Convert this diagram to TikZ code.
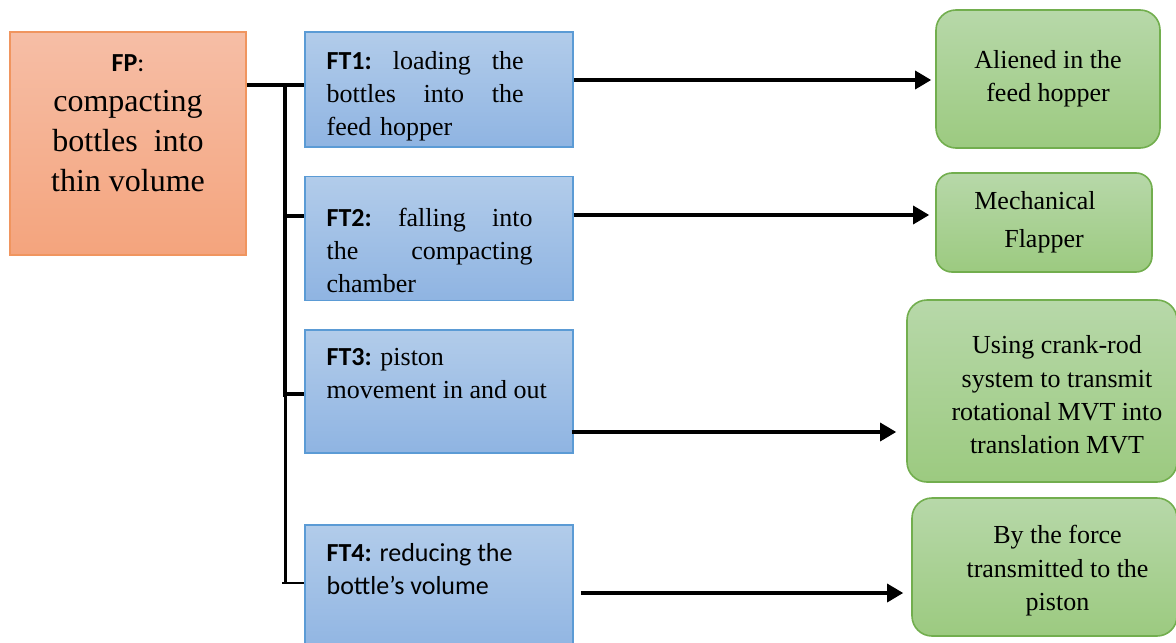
\documentclass[tikz,border=0pt]{standalone}
\usepackage{fontspec}
\setmainfont{Liberation Serif}
\newfontfamily\calibri{Carlito}

\begin{document}
\begin{tikzpicture}[x=0.5pt,y=-0.5pt]
  \usetikzlibrary{positioning,calc,arrows.meta}
    \definecolor{fptop}{HTML}{F6BEA6}
    \definecolor{fpbot}{HTML}{F4A47D}
    \definecolor{fpline}{HTML}{F0955F}
    \definecolor{fttop}{HTML}{B2CCEA}
    \definecolor{ftbot}{HTML}{8FB4E2}
    \definecolor{ftline}{HTML}{5B9BD5}
    \definecolor{rstop}{HTML}{B7D8A9}
    \definecolor{rsbot}{HTML}{9CCA80}
    \definecolor{rsline}{HTML}{72AE4E}
    \tikzstyle{arrow} = [line width=1.6pt,-{Triangle[length=8pt,width=9pt]}]
    \tikzstyle{link} = [line width=1.7pt]
       \tikzset{fpbox/.style = {rectangle, draw=fpline, line width=0.8pt, top color=fptop, bottom color=fpbot, minimum width=118pt, minimum height=111.5pt}, }
       \tikzset{ftbox/.style = {rectangle, draw=ftline, line width=0.8pt, top color=fttop, bottom color=ftbot, minimum width=134pt}, }
       \tikzset{fttext/.style = {anchor=north west, inner sep=0pt, align=left, font=\fontsize{13}{16.5}\selectfont}, }
       \tikzset{rsbox/.style = {rectangle, rounded corners=10pt, draw=rsline, line width=0.8pt, top color=rstop, bottom color=rsbot, align=center, font=\fontsize{13}{16.5}\selectfont}, }
       \tikzset{rstext/.style = {inner sep=0pt, align=center, font=\fontsize{13}{16.7}\selectfont}, }

       \useasboundingbox (0,0) rectangle (1176,642);

       \node[fpbox] (fp) at (128,143.5) {};
       \node[anchor=north, inner sep=0pt, align=center, font=\fontsize{16}{20}\selectfont] (fptext) at (128,54)
         {{\calibri\fontsize{13}{20}\selectfont\textbf{FP}:}\\ compacting\\ bottles\ \ into\\ thin volume};

       \node[ftbox, minimum height=57.5pt] (ft1) at (439,89.5) {};
       \node[ftbox, minimum height=62pt, below=14pt of ft1] (ft2) {};
       \node[ftbox, minimum height=61.5pt, below=14pt of ft2] (ft3) {};
       \node[ftbox, minimum height=65pt, below=35pt of ft3] (ft4) {};

       \node[fttext, text width=98.5pt] (ft1text) at ($(ft1.north west)+(22,20)$)
         {{\calibri\textbf{FT1:}}\hfill loading\hfill the\\ bottles\hfill into\hfill the\\ feed hopper};
       \node[fttext, text width=103pt] (ft2text) at ($(ft2.north west)+(22,32)$)
         {{\calibri\textbf{FT2:}}\hfill falling\hfill into\\ the\hfill compacting\\ chamber};
       \node[fttext] (ft3text) at ($(ft3.north west)+(22,18)$)
         {{\calibri\textbf{FT3:}} piston\\ movement in and out};
       \node[fttext, font=\calibri\fontsize{13}{16.5}\selectfont] (ft4text) at ($(ft4.north west)+(22,19)$)
         {\textbf{FT4:} reducing the\\ bottle’s volume};

       \node[rsbox, minimum width=112pt, minimum height=69pt] (rs1) at (1048,79) {Aliened in the\\ feed hopper};
       \node[rsbox, minimum width=108pt, minimum height=49.5pt, rounded corners=8pt, font=\fontsize{13}{19}\selectfont] (rs2) at (1044,222.5) {Mechanical\hspace*{9pt}\\ Flapper};
       \node[rsbox, minimum width=135pt, minimum height=91pt] (rs3) at (1042,391) {};
       \node[rsbox, minimum width=132.5pt, minimum height=69pt] (rs4) at (1044.5,567) {};
       \node[rstext] (rs3text) at ($(rs3.center)+(15,4)$) {Using crank-rod\\ system to transmit\\ rotational MVT into\\ translation MVT};
       \node[rstext] (rs4text) at ($(rs4.center)+(13,4)$) {By the force\\ transmitted to the\\ piston};

       \coordinate (trunktop) at (285,85);
       \coordinate (trunkmid) at (285,397);
       \coordinate (trunkend) at (285,583);
       \coordinate (b2) at (285,216);
       \coordinate (b3) at (285,394);
       \coordinate (b4) at (282,583);

       \draw[link] (fp.east |- trunktop) -- (trunktop);
       \draw[link] (trunktop) -- (trunkmid);
       \draw[line width=1.5pt] (trunkmid) -- (trunkend);
       \draw[link] (trunktop) -- (trunktop -| ft1.west);
       \draw[link] (b2) -- (b2 -| ft2.west);
       \draw[link] (b3) -- (b3 -| ft3.west);
       \draw[line width=0.6pt] (b4) -- (b4 -| ft4.west);

       \draw[arrow, shorten >=2pt] (ft1.east |- 0,80) -- (rs1.west |- 0,80);
       \draw[arrow, shorten >=3pt] (ft2.east |- 0,215) -- (rs2.west |- 0,215);
       \draw[arrow, shorten >=5pt, shorten <=-1pt] (ft3.east |- 0,432) -- (rs3.west |- 0,432);
       \draw[arrow, shorten >=4pt, shorten <=3.5pt] (ft4.east |- 0,593) -- (rs4.west |- 0,593);

\end{tikzpicture}
\end{document}
